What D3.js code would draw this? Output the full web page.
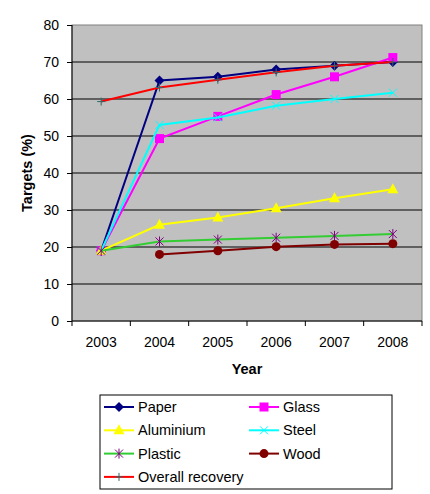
<!DOCTYPE html>
<html lang="en">
	<head>
	<meta charset="UTF-8">
		<title>Recovery targets</title>
		<style>
			body { margin: 0; background: #fff; }
			text { font-family: Arial, 'Liberation Sans', sans-serif; }
		</style>
	</head>
	<body>
		<svg id='graph'></svg>

		<script src='https://d3js.org/d3.v7.min.js'></script>
		<script>
			const years = ['2003', '2004', '2005', '2006', '2007', '2008'];
			const yTicks = [0, 10, 20, 30, 40, 50, 60, 70, 80];

			const paper = [19, 65, 66, 68, 69, 70];
			const glass = [19, 49.3, 55.3, 61.2, 66, 71.2];
			const aluminium = [19, 26, 28, 30.5, 33.2, 35.6];
			const steel = [19, 53, 55, 58.2, 60, 61.7];
			const plastic = [19, 21.5, 22, 22.5, 23, 23.5];
			const wood = [null, 18, 19, 20.1, 20.7, 20.9];
			const overall = [59.3, 63.1, 65.2, 67.2, 69, 70];

			const series = [
				{ name: 'Paper', values: paper, color: '#000080', marker: 'diamond', mcolor: '#000080' },
				{ name: 'Glass', values: glass, color: '#FF00FF', marker: 'square', mcolor: '#FF00FF' },
				{ name: 'Aluminium', values: aluminium, color: '#FFFF00', marker: 'triangle', mcolor: '#FFFF00' },
				{ name: 'Steel', values: steel, color: '#00FFFF', marker: 'x', mcolor: '#00FFFF' },
				{ name: 'Plastic', values: plastic, color: '#33CC33', marker: 'star', mcolor: '#800080' },
				{ name: 'Wood', values: wood, color: '#800000', marker: 'circle', mcolor: '#800000' },
				{ name: 'Overall recovery', values: overall, color: '#FF0000', marker: 'plus', mcolor: '#336666' }
			];

			const width = 430;
			const height = 494;
			const margin = { top: 25, right: 8, bottom: 173, left: 72 };
			const graphWidth = width - margin.left - margin.right;
			const graphHeight = height - margin.top - margin.bottom;

			const svg = d3.select('#graph')
				.attr('width', width)
				.attr('height', height);

			const graph = svg.append('g')
				.attr('transform', `translate(${margin.left}, ${margin.top})`);

			const xScale = d3.scaleBand()
				.domain(years)
				.range([0, graphWidth]);

			const yScale = d3.scaleLinear()
				.domain([0, 80])
				.range([graphHeight, 0]);

			// plot area
			graph.append('rect')
				.attr('width', graphWidth)
				.attr('height', graphHeight)
				.style('fill', '#C0C0C0')
				.style('stroke', '#808080');

			graph.selectAll('.grid')
				.data(yTicks.slice(1, -1))
				.enter().append('line')
				.attr('x1', 0)
				.attr('x2', graphWidth)
				.attr('y1', d => yScale(d))
				.attr('y2', d => yScale(d))
				.style('stroke', '#000')
				.style('stroke-width', 1);

			// y axis
			const yAxis = d3.axisLeft(yScale)
				.tickValues(yTicks)
				.tickSize(5)
				.tickPadding(8);
			const yG = graph.append('g').call(yAxis);
			yG.select('.domain').attr('d', `M0,0V${graphHeight}`);
			yG.selectAll('text').style('font-size', '14px').style('font-family', 'Arial, Liberation Sans, sans-serif');

			// x axis
			const xAxis = d3.axisBottom(xScale).tickSize(0).tickPadding(16);
			const xG = graph.append('g')
				.attr('transform', `translate(0, ${graphHeight})`)
				.call(xAxis);
			xG.select('.domain').attr('d', `M0,0H${graphWidth}`);
			xG.selectAll('text').style('font-size', '14px').style('font-family', 'Arial, Liberation Sans, sans-serif');
			xG.selectAll('.edge')
				.data(years.map(y => xScale(y)).concat([graphWidth]))
				.enter().append('line')
				.attr('x1', d => d)
				.attr('x2', d => d)
				.attr('y1', 0)
				.attr('y2', 5)
				.style('stroke', '#000');

			svg.append('text')
				.attr('transform', `translate(32, ${margin.top + graphHeight / 2}) rotate(-90)`)
				.attr('text-anchor', 'middle')
				.style('font-size', '14.5px')
				.style('font-weight', 'bold')
				.text('Targets (%)');

			svg.append('text')
				.attr('x', margin.left + graphWidth / 2)
				.attr('y', 374)
				.attr('text-anchor', 'middle')
				.style('font-size', '14.5px')
				.style('font-weight', 'bold')
				.text('Year');

			function drawMarker(g, type, color, x, y) {
				if (type === 'diamond') {
					g.append('path').attr('d', `M${x},${y - 5}L${x + 5},${y}L${x},${y + 5}L${x - 5},${y}Z`).style('fill', color);
				} else if (type === 'square') {
					g.append('rect').attr('x', x - 4.5).attr('y', y - 4.5).attr('width', 9).attr('height', 9).style('fill', color);
				} else if (type === 'triangle') {
					g.append('path').attr('d', `M${x},${y - 6}L${x + 5.5},${y + 4}L${x - 5.5},${y + 4}Z`).style('fill', color);
				} else if (type === 'circle') {
					g.append('circle').attr('cx', x).attr('cy', y).attr('r', 4.5).style('fill', color);
				} else if (type === 'x') {
					g.append('path').attr('d', `M${x - 4},${y - 4}L${x + 4},${y + 4}M${x - 4},${y + 4}L${x + 4},${y - 4}`).style('stroke', color).style('stroke-width', 1);
				} else if (type === 'star') {
					g.append('path').attr('d', `M${x - 4},${y - 4}L${x + 4},${y + 4}M${x - 4},${y + 4}L${x + 4},${y - 4}M${x},${y - 5}V${y + 5}`).style('stroke', color).style('stroke-width', 1);
				} else if (type === 'plus') {
					g.append('path').attr('d', `M${x - 4},${y}H${x + 4}M${x},${y - 4}V${y + 4}`).style('stroke', color).style('stroke-width', 1);
				}
			}

			const line = d3.line()
				.defined(d => d.v !== null)
				.x(d => xScale(d.year) + xScale.bandwidth() / 2)
				.y(d => yScale(d.v));

			series.forEach(s => {
				const pts = years.map((year, i) => ({ year: year, v: s.values[i] }));
				const g = graph.append('g');
				g.append('path')
					.datum(pts)
					.attr('d', line)
					.style('fill', 'none')
					.style('stroke', s.color)
					.style('stroke-width', 2);
				pts.filter(d => d.v !== null).forEach(d => {
					drawMarker(g, s.marker, s.mcolor, xScale(d.year) + xScale.bandwidth() / 2, yScale(d.v));
				});
			});

			// legend
			const legend = svg.append('g').attr('transform', 'translate(100, 395)');
			legend.append('rect')
				.attr('width', 292)
				.attr('height', 94)
				.style('fill', '#fff')
				.style('stroke', '#000');

			series.forEach((s, i) => {
				const col = i === 6 ? 0 : i % 2;
				const row = Math.floor(i / 2);
				const lx = 4 + col * 145;
				const ly = 12 + row * 23.3;
				const g = legend.append('g');
				g.append('line')
					.attr('x1', lx)
					.attr('x2', lx + 30)
					.attr('y1', ly)
					.attr('y2', ly)
					.style('stroke', s.color)
					.style('stroke-width', 2);
				drawMarker(g, s.marker, s.mcolor, lx + 15, ly);
				g.append('text')
					.attr('x', lx + 34)
					.attr('y', ly + 5)
					.style('font-size', '14.5px')
					.text(s.name);
			});
		</script>
	</body>
</html>
